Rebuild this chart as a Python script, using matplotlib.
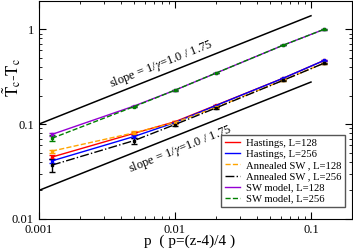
import matplotlib
matplotlib.use('Agg')
import matplotlib.pyplot as plt
from matplotlib.lines import Line2D
import numpy as np

plt.rcParams['font.family'] = ['Liberation Serif', 'DejaVu Serif']
plt.rcParams['mathtext.fontset'] = 'stix'

p = [0.00125, 0.005, 0.01, 0.02, 0.0625, 0.125]

hast_128 = [0.045, 0.080, 0.106, 0.158, 0.305, 0.47]
hast_256 = [0.041, 0.074, 0.104, 0.157, 0.305, 0.47]
ann_128 = [0.052, 0.081, 0.104, 0.150, 0.29, 0.44]
ann_256 = [0.037, 0.067, 0.099, 0.148, 0.29, 0.44]
sw_128 = [0.078, 0.155, 0.228, 0.345, 0.68, 1.0]
sw_256 = [0.071, 0.153, 0.228, 0.345, 0.68, 1.0]

err_hast_128 = [0.002, 0.002, 0.002, 0.002, 0.003, 0.004]
err_hast_256 = [0.002, 0.002, 0.002, 0.002, 0.003, 0.004]
err_ann_128 = [0.002, 0.003, 0.003, 0.003, 0.004, 0.005]
err_ann_256 = [0.006, 0.005, 0.004, 0.004, 0.004, 0.005]
err_sw_128 = [0.003, 0.002, 0.002, 0.003, 0.004, 0.006]
err_sw_256 = [0.005, 0.003, 0.003, 0.003, 0.004, 0.006]

slope = 1.0 / 1.75
slope_x = [0.001, 0.1]
upper_y0 = 0.1
lower_y0 = 0.02

fig = plt.figure(figsize=(3.53, 2.52), dpi=100)
ax = fig.add_axes([0.110, 0.131, 0.887, 0.866])

series = [
    (hast_128, err_hast_128, 'red', '-', 'Hastings, L=128'),
    (hast_256, err_hast_256, 'blue', '-', 'Hastings, L=256'),
    (ann_128, err_ann_128, 'orange', '--', 'Annealed SW , L=128'),
    (ann_256, err_ann_256, 'black', '-.', 'Annealed SW , L=256'),
    (sw_128, err_sw_128, 'darkviolet', '-', 'SW model, L=128'),
    (sw_256, err_sw_256, 'green', '--', 'SW model, L=256'),
]
handles = []
for ys, es, col, ls, lab in series:
    ax.errorbar(p, ys, yerr=es, color=col, ls=ls, lw=1.0, marker='s',
                ms=2, capsize=2, elinewidth=1.0)
    handles.append(Line2D([], [], color=col, ls=ls, lw=1.0, label=lab))

sx = np.array(slope_x)
ax.plot(sx, upper_y0 * (sx / sx[0]) ** slope, color='black', lw=1.1)
ax.plot(sx, lower_y0 * (sx / sx[0]) ** slope, color='black', lw=1.1)

ax.set_xscale('log')
ax.set_yscale('log')
ax.set_xlim(0.001, 0.2)
ax.set_ylim(0.01, 2.0)

# rotation of slope lines on screen
p0 = ax.transData.transform((sx[0], upper_y0))
p1 = ax.transData.transform((sx[1], upper_y0 * (sx[1] / sx[0]) ** slope))
ang = np.degrees(np.arctan2(p1[1] - p0[1], p1[0] - p0[0]))

ax.text(0.0079, 0.43, r'slope = 1/$\gamma$=1.0 / 1.75', fontsize=9,
        rotation=ang, ha='center', va='center')
ax.text(0.011, 0.055, r'slope = 1/$\gamma$=1.0 / 1.75', fontsize=9,
        rotation=ang, ha='center', va='center')

ax.set_xticks([0.001, 0.01, 0.1])
ax.set_xticklabels(['0.001', '0.01', '0.1'])
ax.set_yticks([0.01, 0.1, 1])
ax.set_yticklabels(['0.01', '0.1', '1'])
ax.tick_params(which='both', direction='in', top=True, right=True, labelsize=9)
ax.tick_params(which='major', length=5)
ax.tick_params(which='minor', length=2.5)

ax.set_xlabel('p  ( p=(z-4)/4 )', fontsize=11)
ax.xaxis.set_label_coords(0.48, -0.07)
ax.set_ylabel(r'$\tilde{\mathrm{T}}_{\mathrm{c}}$-$\mathrm{T}_{\mathrm{c}}$', fontsize=12)
ax.yaxis.set_label_coords(-0.05, 0.65)

leg = ax.legend(handles=handles, loc='lower right', bbox_to_anchor=(0.994, 0.032),
                fontsize=7.7, labelspacing=0.15, handlelength=1.4, handletextpad=0.6,
                borderpad=0.3, fancybox=False, framealpha=1, edgecolor='#555555')
leg.get_frame().set_linewidth(1.0)

fig.savefig('out.png', dpi=100)
